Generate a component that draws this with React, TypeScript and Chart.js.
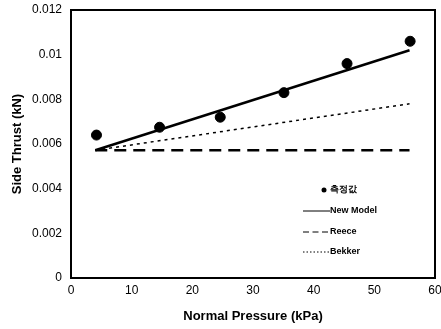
import React, { useEffect, useRef } from "react";
import { Chart, registerables } from "chart.js";

Chart.register(...registerables);

const pressure = [4.2, 14.6, 24.6, 35.1, 45.5, 55.9];
const measured = [0.0064, 0.00675, 0.0072, 0.0083, 0.0096, 0.0106];
const lineX = [4, 55.8];
const newModel = [0.00572, 0.0102];
const reece = [0.00572, 0.00572];
const bekker = [0.00572, 0.0078];
const xTicks = [0, 10, 20, 30, 40, 50, 60];
const yTicks = [0, 0.002, 0.004, 0.006, 0.008, 0.01, 0.012];

const FONT = "'Liberation Sans', Arial, sans-serif";

const legendPlugin = {
  id: "customLegend",
  afterDraw(chart: any) {
    const ctx = chart.ctx;
    const { left, top, right, bottom } = chart.chartArea;
    ctx.save();
    ctx.strokeStyle = "#000";
    ctx.lineWidth = 2;
    ctx.strokeRect(left, top, right - left, bottom - top);
    const ds = chart.data.datasets;
    const x0 = 303;
    const xt = 330;
    const ys = [190, 211, 232, 252];
    ctx.font = "bold 9px " + FONT;
    ctx.textBaseline = "middle";
    ctx.fillStyle = "#000";
    ds.forEach((d: any, i: number) => {
      const y = ys[i];
      if (i === 0) {
        ctx.beginPath();
        ctx.arc(xt - 6, y, 2.5, 0, Math.PI * 2);
        ctx.fill();
      } else {
        ctx.beginPath();
        ctx.setLineDash(d.borderDash ? d.borderDash.map((v: number) => v / 2) : []);
        ctx.lineWidth = 1;
        ctx.moveTo(x0, y);
        ctx.lineTo(xt, y);
        ctx.stroke();
        ctx.setLineDash([]);
      }
      ctx.fillText(d.label, xt, y);
    });
    ctx.restore();
  },
};

export default function App() {
  const ref = useRef<HTMLCanvasElement>(null);
  useEffect(() => {
    document.body.style.margin = "0";
    const toPts = (xs: number[], ys: number[]) => xs.map((x, i) => ({ x, y: ys[i] }));
    const chart = new Chart(ref.current!, {
      type: "scatter",
      data: {
        datasets: [
          {
            label: "측정값",
            data: toPts(pressure, measured),
            backgroundColor: "#000",
            borderColor: "#000",
            pointRadius: 5,
            showLine: false,
          },
          {
            label: "New Model",
            data: toPts(lineX, newModel),
            borderColor: "#000",
            borderWidth: 2.5,
            pointRadius: 0,
            showLine: true,
          },
          {
            label: "Reece",
            data: toPts(lineX, reece),
            borderColor: "#000",
            borderWidth: 2.5,
            borderDash: [12, 7],
            pointRadius: 0,
            showLine: true,
          },
          {
            label: "Bekker",
            data: toPts(lineX, bekker),
            borderColor: "#000",
            borderWidth: 1.5,
            borderDash: [3, 4],
            pointRadius: 0,
            showLine: true,
          },
        ] as any,
      },
      options: {
        animation: false,
        responsive: false,
        layout: { padding: { top: 10, right: 5, left: 0, bottom: 0 } },
        plugins: { legend: { display: false }, tooltip: { enabled: false } },
        scales: {
          x: {
            type: "linear",
            min: 0,
            max: 60,
            afterBuildTicks: (s: any) => {
              s.ticks = xTicks.map((v) => ({ value: v }));
            },
            afterFit: (s: any) => {
              s.height = 51;
              s.paddingLeft = 0;
              s.paddingRight = 0;
            },
            grid: { display: false, drawTicks: false },
            border: { display: true, color: "#000", width: 2 },
            ticks: { color: "#000", font: { family: FONT, size: 12 }, padding: 5, maxRotation: 0 },
            title: {
              display: true,
              text: "Normal Pressure (kPa)",
              color: "#000",
              font: { family: FONT, size: 13, weight: "bold" },
              padding: { top: 4, bottom: 5 },
            },
          },
          y: {
            type: "linear",
            min: 0,
            max: 0.012,
            afterBuildTicks: (s: any) => {
              s.ticks = yTicks.map((v) => ({ value: v }));
            },
            afterFit: (s: any) => {
              s.width = 71;
              s.paddingTop = 0;
              s.paddingBottom = 0;
            },
            grid: { display: false, drawTicks: false },
            border: { display: true, color: "#000", width: 2 },
            ticks: {
              color: "#000",
              font: { family: FONT, size: 12 },
              padding: 9,
              callback: (v: any) => String(Number(Number(v).toFixed(3))),
            },
            title: {
              display: true,
              text: "Side Thrust (kN)",
              color: "#000",
              font: { family: FONT, size: 13, weight: "bold" },
              padding: { top: 10, bottom: 4 },
            },
          },
        },
      } as any,
      plugins: [legendPlugin],
    });
    return () => chart.destroy();
  }, []);
  return (
    <div style={{ width: 441, height: 329, background: "#fff" }}>
      <canvas ref={ref} width={441} height={329} />
    </div>
  );
}
